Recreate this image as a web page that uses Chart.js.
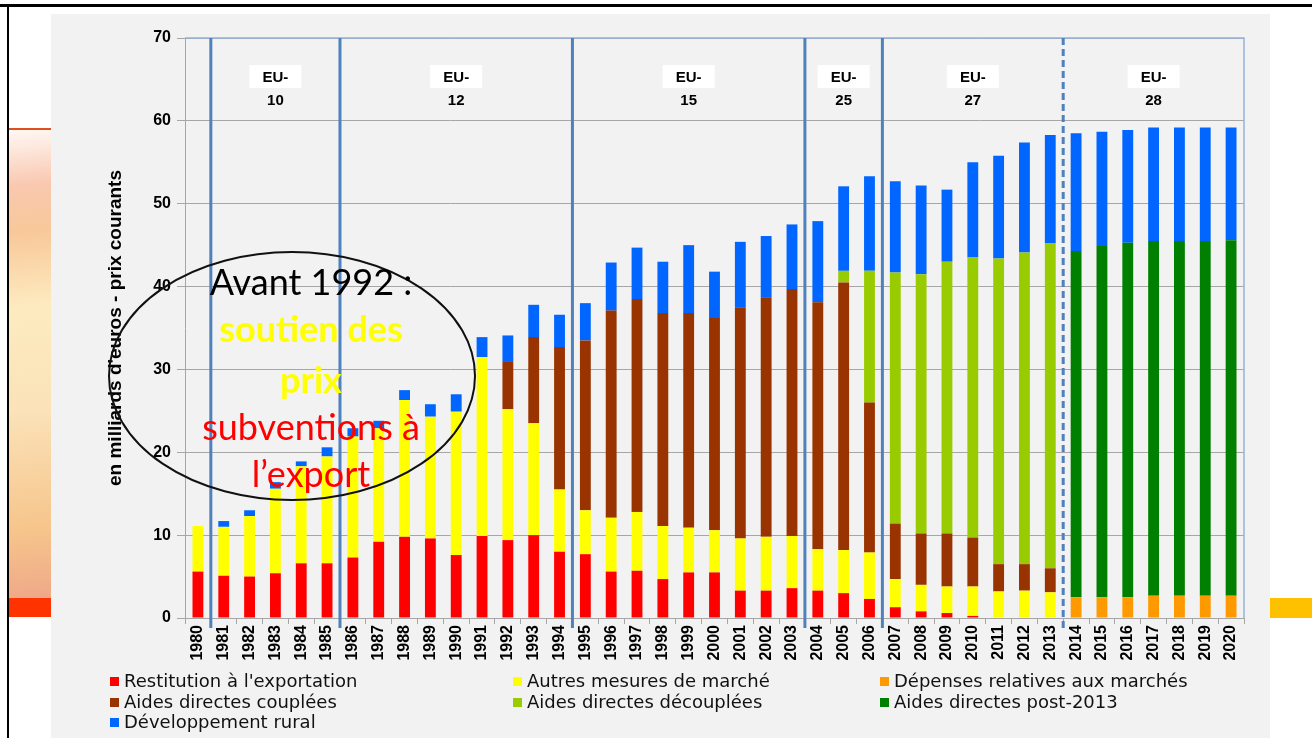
<!DOCTYPE html>
<html lang="fr">
<head>
<meta charset="utf-8">
<script src="https://cdn.jsdelivr.net/npm/chart.js@4.4.1/dist/chart.umd.min.js"></script>
<style>
  body { margin: 0; background: #fff; }
  #wrap { position: relative; width: 1312px; height: 738px; overflow: hidden; }
  #legend { position: absolute; left: 0; top: 0; width: 1312px; height: 738px; pointer-events: none;
            font-family: "DejaVu Sans", Verdana, sans-serif; font-size: 18px; color: #111; }
  .item { position: absolute; white-space: nowrap; line-height: 20px; }
  .box { display: inline-block; width: 9px; height: 9px; margin-right: 5px; vertical-align: 1px; }
</style>
</head>
<body>
<div id="wrap">
  <canvas id="chart" width="1312" height="738"></canvas>
  <div id="legend"></div>
</div>
<script>
// Années
const years = ['1980','1981','1982','1983','1984','1985','1986','1987','1988','1989',
  '1990','1991','1992','1993','1994','1995','1996','1997','1998','1999',
  '2000','2001','2002','2003','2004','2005','2006','2007','2008','2009',
  '2010','2011','2012','2013','2014','2015','2016','2017','2018','2019','2020'];

// Dépenses PAC (milliards d'euros, prix courants)
const restitution = [5.6,5.1,5.0,5.4,6.6,6.6,7.3,9.2,9.8,9.6,
  7.6,9.9,9.4,10.0,8.0,7.7,5.6,5.7,4.7,5.5,
  5.5,3.3,3.3,3.6,3.3,3.0,2.3,1.3,0.8,0.6,
  0.25,0,0,0,0,0,0,0,0,0,0];
const depensesMarches = [0,0,0,0,0,0,0,0,0,0,
  0,0,0,0,0,0,0,0,0,0,
  0,0,0,0,0,0,0,0,0,0,
  0,0,0,0,2.5,2.5,2.5,2.7,2.7,2.7,2.7];
const autresMesures = [5.5,5.9,7.3,10.2,11.7,12.9,14.6,13.7,16.5,14.7,
  17.3,21.6,15.8,13.5,7.5,5.3,6.5,7.1,6.4,5.4,
  5.1,6.3,6.5,6.3,5.0,5.2,5.6,3.4,3.2,3.2,
  3.55,3.2,3.3,3.1,0,0,0,0,0,0,0];
const aidesCouplees = [0,0,0,0,0,0,0,0,0,0,
  0,0,5.8,10.4,17.2,20.5,25.0,25.7,25.7,25.9,
  25.6,27.9,28.9,29.8,29.8,32.3,18.1,6.7,6.2,6.4,
  5.9,3.3,3.2,2.9,0,0,0,0,0,0,0];
const aidesDecouplees = [0,0,0,0,0,0,0,0,0,0,
  0,0,0,0,0,0,0,0,0,0,
  0,0,0,0,0,1.4,15.9,30.3,31.3,32.8,
  33.8,36.9,37.6,39.2,0,0,0,0,0,0,0];
const aidesPost2013 = [0,0,0,0,0,0,0,0,0,0,
  0,0,0,0,0,0,0,0,0,0,
  0,0,0,0,0,0,0,0,0,0,
  0,0,0,0,41.8,42.4,42.8,42.8,42.8,42.8,42.9];
const developpementRural = [0,0.7,0.7,0.8,0.6,1.1,1.0,0.9,1.2,1.5,
  2.1,2.4,3.1,3.9,3.9,4.5,5.8,6.2,6.2,8.2,
  5.6,7.9,7.4,7.8,9.8,10.2,11.4,11.0,10.7,8.7,
  11.5,12.4,13.3,13.1,14.2,13.8,13.6,13.7,13.7,13.7,13.6];

// Élargissements : dernière année avant chaque coupure
const breakAfter = ['1980','1985','1994','2003','2006','2013'];
const periodNames = [['EU-','10'],['EU-','12'],['EU-','15'],['EU-','25'],['EU-','27'],['EU-','28']];

const series = [
  { label: "Restitution à l'exportation", data: restitution, color: '#ff0000', legend: 0 },
  { label: 'Dépenses relatives aux marchés', data: depensesMarches, color: '#ff9900', legend: 2 },
  { label: 'Autres mesures de marché', data: autresMesures, color: '#ffff00', legend: 1 },
  { label: 'Aides directes couplées', data: aidesCouplees, color: '#993300', legend: 3 },
  { label: 'Aides directes découplées', data: aidesDecouplees, color: '#99cc00', legend: 4 },
  { label: 'Aides directes post-2013', data: aidesPost2013, color: '#008000', legend: 5 },
  { label: 'Développement rural', data: developpementRural, color: '#0066ff', legend: 6 },
];

const decor = {
  id: 'decor',
  beforeDraw(chart) {
    const c = chart.ctx;
    c.save();
    c.fillStyle = '#fff';
    c.fillRect(0, 0, 1312, 738);
    // panneau gris
    c.fillStyle = '#f2f2f2';
    c.fillRect(51, 14, 1219, 724);
    // bandeau gauche
    const g = c.createLinearGradient(9, 130, 51, 598);
    g.addColorStop(0, '#fff8f4');
    g.addColorStop(0.12, '#f9c8b0');
    g.addColorStop(0.22, '#f8c89a');
    g.addColorStop(0.38, '#fdebc0');
    g.addColorStop(0.6, '#fbe2b8');
    g.addColorStop(0.85, '#f6c58c');
    g.addColorStop(1, '#efa888');
    c.fillStyle = g;
    c.fillRect(9, 130, 42, 468);
    c.fillStyle = '#e0501e';
    c.fillRect(9, 128, 42, 2);
    c.fillStyle = '#ff3300';
    c.fillRect(9, 598, 42, 19);
    c.fillStyle = '#ffc000';
    c.fillRect(1270, 598, 42, 20);
    // cadre noir
    c.fillStyle = '#000';
    c.fillRect(0, 4, 1312, 3);
    c.fillRect(7, 4, 2, 734);
    c.restore();
  },
  afterDatasetsDraw(chart) {
    const c = chart.ctx;
    const a = chart.chartArea;
    const x = chart.scales.x;
    c.save();
    // bordure haute et droite
    c.strokeStyle = '#95b3d7';
    c.lineWidth = 1.5;
    c.beginPath();
    c.moveTo(a.left, a.top); c.lineTo(a.right, a.top); c.lineTo(a.right, a.bottom);
    c.stroke();
    // séparateurs
    const bx = breakAfter.map(y => {
      const i = years.indexOf(y);
      return (x.getPixelForValue(i) + x.getPixelForValue(i + 1)) / 2;
    });
    c.strokeStyle = '#4f81bd';
    c.lineWidth = 3;
    bx.forEach((px, k) => {
      c.setLineDash(k === bx.length - 1 ? [7, 4] : []);
      c.beginPath();
      c.moveTo(px, a.top);
      c.lineTo(px, a.bottom + 10);
      c.stroke();
    });
    c.setLineDash([]);
    // étiquettes de période
    const edges = bx.concat([a.right]);
    c.font = 'bold 15px "Liberation Sans", Arial, sans-serif';
    c.textAlign = 'center';
    c.textBaseline = 'middle';
    periodNames.forEach((p, k) => {
      const cx = (edges[k] + edges[k + 1]) / 2;
      c.fillStyle = '#fff';
      c.fillRect(cx - 26, 65, 52, 23);
      c.fillStyle = '#000';
      c.fillText(p[0], cx, 78);
      c.fillText(p[1], cx, 101);
    });
    // ellipse et commentaire
    c.strokeStyle = '#111';
    c.lineWidth = 2;
    c.beginPath();
    c.ellipse(292, 376, 183, 124, 0, 0, Math.PI * 2);
    c.stroke();
    c.font = '36px Lato, "Open Sans", sans-serif';
    c.fillStyle = '#000';
    c.fillText('Avant 1992 :', 311, 283);
    c.font = 'bold 36px Lato, "Open Sans", sans-serif';
    c.fillStyle = '#ffff00';
    c.fillText('soutien des', 311, 330);
    c.fillText('prix', 311, 381);
    c.font = '36px Lato, "Open Sans", sans-serif';
    c.fillStyle = '#ff0000';
    c.fillText('subventions à', 311, 428);
    c.fillText('l\u2019export', 311, 475);
    c.restore();
  }
};

const tickFont = { family: '"Liberation Sans", Arial, sans-serif', weight: 'bold', size: 16 };

new Chart(document.getElementById('chart'), {
  type: 'bar',
  data: {
    labels: years,
    datasets: series.map(s => ({
      label: s.label,
      data: s.data.map(v => v || null),
      backgroundColor: s.color,
      borderWidth: 0,
      barPercentage: 0.42,
      categoryPercentage: 1,
    })),
  },
  options: {
    responsive: false,
    animation: false,
    layout: { padding: { left: 80, right: 68, top: 38, bottom: 0 } },
    plugins: { legend: { display: false }, tooltip: { enabled: false } },
    scales: {
      x: {
        stacked: true,
        afterFit(s) { s.height = 120; },
        grid: { offset: true, drawOnChartArea: false, color: '#a6a6a6', tickLength: 6 },
        border: { color: '#a6a6a6' },
        ticks: { autoSkip: false, minRotation: 90, maxRotation: 90, color: '#000', font: { ...tickFont, size: 16 }, padding: 1 },
      },
      y: {
        stacked: true,
        min: 0,
        max: 70,
        afterFit(s) { s.width = 105; },
        grid: { color: '#a6a6a6', tickLength: 8 },
        border: { color: '#a6a6a6' },
        ticks: { stepSize: 10, color: '#000', font: tickFont, padding: 6 },
        title: {
          display: true,
          text: "en milliards d'euros - prix courants",
          color: '#000',
          font: { family: '"Liberation Sans", Arial, sans-serif', weight: 'bold', size: 19 },
          padding: { top: 24, bottom: 0 },
        },
      },
    },
  },
  plugins: [decor],
});

// Légende sur 3 colonnes
const colX = [110, 513, 880];
const rowY = [671, 692, 712];
const leg = document.getElementById('legend');
series.slice().sort((p, q) => p.legend - q.legend).forEach((s, i) => {
  const d = document.createElement('div');
  d.className = 'item';
  d.style.left = colX[i % 3] + 'px';
  d.style.top = rowY[Math.floor(i / 3)] + 'px';
  d.innerHTML = '<span class="box" style="background:' + s.color + '"></span>' + s.label;
  leg.appendChild(d);
});
</script>
</body>
</html>
